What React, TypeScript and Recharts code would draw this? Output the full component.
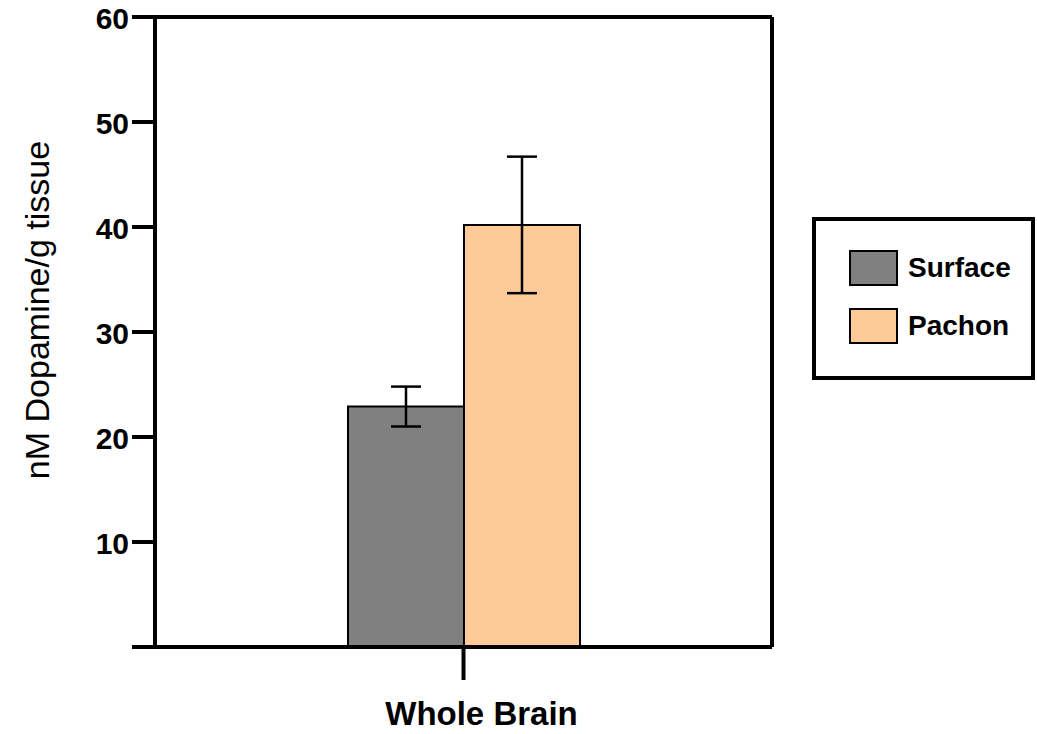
import { BarChart, Bar, XAxis, YAxis, ErrorBar, Legend, ReferenceLine } from 'recharts'

const categories = ['Whole Brain']
const seriesNames = ['Surface', 'Pachon']
const surfaceMeans = [22.9]
const surfaceErrors = [1.9]
const pachonMeans = [40.2]
const pachonErrors = [6.5]
const yTicks = [0, 10, 20, 30, 40, 50, 60]

const data = categories.map((name, i) => ({
  name,
  surface: surfaceMeans[i],
  surfaceErr: surfaceErrors[i],
  pachon: pachonMeans[i],
  pachonErr: pachonErrors[i],
}))

const FONT = '"Liberation Sans", Arial, sans-serif'

// left ticks: the 0 tick keeps its line but has no label
const YTick = (props: any) => {
  const { x, y, payload } = props
  if (payload.value === 0) return <g />
  return (
    <text x={x} y={y} dy={12} textAnchor="end" fontFamily={FONT} fontSize={30} fontWeight={700} fill="#000">
      {payload.value}
    </text>
  )
}

const XTick = (props: any) => {
  const { x, y, payload } = props
  return (
    <text x={x} y={y} dx={18} dy={43} textAnchor="middle" fontFamily={FONT} fontSize={33} fontWeight={700} fill="#000">
      {payload.value}
    </text>
  )
}

const YLabel = (props: any) => {
  const { viewBox } = props
  const cx = viewBox.x + 37
  const cy = viewBox.y + viewBox.height / 2 - 22
  return (
    <text
      x={cx}
      y={cy}
      transform={`rotate(-90 ${cx} ${cy})`}
      textAnchor="middle"
      dominantBaseline="central"
      fontFamily={FONT}
      fontSize={34}
      fill="#000"
    >
      nM Dopamine/g tissue
    </text>
  )
}

const LegendBox = (props: any) => {
  const items = [...((props.payload || []) as any[])].sort(
    (a, b) => seriesNames.indexOf(a.value) - seriesNames.indexOf(b.value),
  )
  return (
    <div
      style={{
        boxSizing: 'border-box',
        width: 223,
        height: 163,
        border: '4px solid #000',
        background: '#fff',
        paddingTop: 29,
        paddingLeft: 33,
        fontFamily: FONT,
      }}
    >
      {items.map((it) => (
        <div key={it.value} style={{ display: 'flex', alignItems: 'center', height: 36, marginBottom: 22 }}>
          <div
            style={{
              boxSizing: 'border-box',
              width: 49,
              height: 36,
              background: it.color,
              border: '2px solid #000',
            }}
          />
          <span style={{ marginLeft: 10, fontSize: 28, fontWeight: 700, color: '#000' }}>{it.value}</span>
        </div>
      ))}
    </div>
  )
}

export default function App() {
  return (
    <div style={{ position: 'absolute', left: 0, top: 0, background: '#fff' }}>
      <BarChart
        width={1037}
        height={734}
        data={data}
        margin={{ top: 17, right: 264, left: 0, bottom: 0 }}
        barGap={0}
        barSize={116}
      >
        <XAxis
          dataKey="name"
          height={87}
          axisLine={{ stroke: '#000', strokeWidth: 4 }}
          tickLine={{ stroke: '#000', strokeWidth: 4 }}
          tickSize={33}
          tick={<XTick />}
        />
        <YAxis
          width={155}
          domain={[0, 60]}
          ticks={yTicks}
          interval={0}
          axisLine={{ stroke: '#000', strokeWidth: 4 }}
          tickLine={{ stroke: '#000', strokeWidth: 4 }}
          tickSize={23}
          tickMargin={3}
          tick={<YTick />}
          label={<YLabel />}
        />
        <YAxis yAxisId="right" orientation="right" width={1} domain={[0, 60]} tick={false} tickLine={false}
          axisLine={{ stroke: '#000', strokeWidth: 4 }} />
        <ReferenceLine y={60} stroke="#000" strokeWidth={4} />
        <Legend
          layout="horizontal"
          verticalAlign="middle"
          align="center"
          content={<LegendBox />}
          wrapperStyle={{ left: 812, top: 217, width: 223, height: 163 }}
        />
        <Bar dataKey="surface" name="Surface" fill="#808080" stroke="#000" strokeWidth={2} isAnimationActive={false}>
          <ErrorBar dataKey="surfaceErr" width={15} stroke="#000" strokeWidth={2.5} direction="y" />
        </Bar>
        <Bar dataKey="pachon" name="Pachon" fill="#FECA98" stroke="#000" strokeWidth={2} isAnimationActive={false}>
          <ErrorBar dataKey="pachonErr" width={15} stroke="#000" strokeWidth={2.5} direction="y" />
        </Bar>
      </BarChart>
    </div>
  )
}
